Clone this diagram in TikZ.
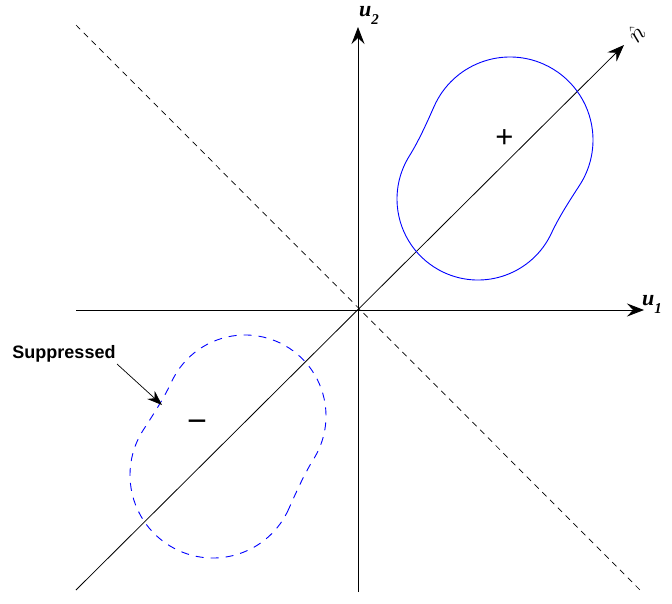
\documentclass[tikz,border=0pt]{standalone}
\usepackage{fontspec}
\setmainfont{Liberation Serif}
\newfontfamily\arialfont{Liberation Sans}
\usetikzlibrary{arrows.meta,calc}
\begin{document}
\begin{tikzpicture}[x=1pt,y=-1pt,
  axis/.style={line width=0.8pt,-{Stealth[length=17pt,width=13pt,inset=6pt]}},
  lbl/.style={font=\fontsize{22}{22}\selectfont\bfseries\itshape, inner sep=0pt, anchor=base west},
  sign/.style={font=\arialfont\fontsize{31}{31}\selectfont, inner sep=0pt},
  lobe/.style={blue, line width=0.9pt}]
\useasboundingbox (0,0) rectangle (672,603);
\coordinate (O) at (358,310);
\coordinate (xl) at (76,310);
\coordinate (xr) at (644,310);
\coordinate (yb) at (358,592);
\coordinate (yt) at (358,27);
\coordinate (nl) at (76,590);
\coordinate (nr) at (624,45);
\coordinate (dl) at (76,25);
\coordinate (dr) at (640,590);
\draw[axis] (xl) -- (xr);
\draw[axis] (yb) -- (yt);
\draw[axis] (nl) -- (nr);
\draw[line width=0.7pt, dash pattern=on 6pt off 5pt] (dl) -- (dr);
\node[lbl] (u1) at (642,305) {u\raisebox{-0.4em}{\fontsize{15}{15}\selectfont 1}};
\node[lbl] (u2) at (359,16) {u\raisebox{-0.4em}{\fontsize{15}{15}\selectfont 2}};
\node[font=\fontsize{27}{27}\selectfont, rotate=45, inner sep=0pt] (n) at (636,33) {$\hat{n}$};
% solid lobe: two overlapping circles joined by short bridges
\coordinate (c1) at (510,140);
\coordinate (c2) at (478,199);
\draw[lobe] ($(c1)+(204:83)$) coordinate (s1)
  arc[start angle=204, end angle=393, radius=83]
  .. controls +(-9.8,15.1) and +(7.6,-16.3) .. ($(c2)+(25:81)$)
  arc[start angle=25, end angle=212, radius=81]
  .. controls +(9.5,-15.3) and +(-7.3,16.5) .. (s1) -- cycle;
% dashed lobe: point reflection
\coordinate (d1) at (213,475);
\coordinate (d2) at (245,416);
\draw[lobe, dash pattern=on 8pt off 7pt] ($(d1)+(24:83)$) coordinate (s2)
  arc[start angle=24, end angle=213, radius=83]
  .. controls +(9.8,-15.1) and +(-7.6,16.3) .. ($(d2)+(205:81)$)
  arc[start angle=205, end angle=392, radius=81]
  .. controls +(-9.5,15.3) and +(7.3,-16.5) .. (s2) -- cycle;
\node[sign] (plus) at (504.5,138.5) {+};
\node[sign, font=\arialfont\fontsize{34}{34}\selectfont] (minus) at (197,426.5) {−};
\node[font=\arialfont\fontsize{18}{18}\selectfont\bfseries, inner sep=1pt] (sup) at (64,354) {Suppressed};
\coordinate (tip) at (162,405);
\draw[line width=0.7pt, -{Stealth[length=15pt,width=11pt,inset=5pt]}] (117,364) -- (tip);
\end{tikzpicture}
\end{document}
